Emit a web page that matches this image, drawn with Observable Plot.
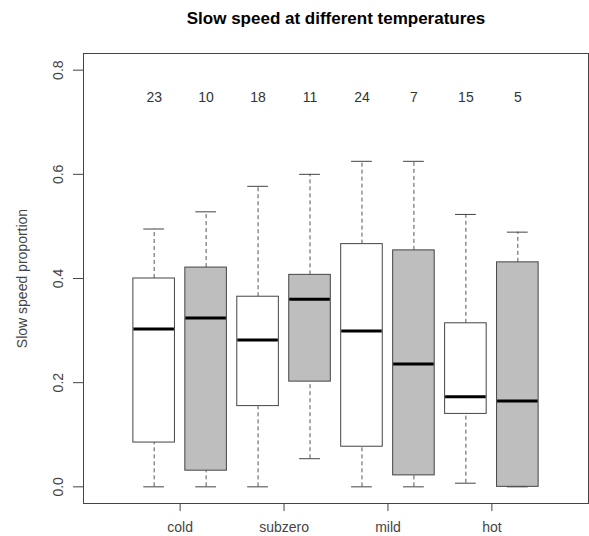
<!DOCTYPE html>
<html>
<head>
<meta charset="utf-8">
<script src="https://cdn.jsdelivr.net/npm/d3@7"></script>
<script src="https://cdn.jsdelivr.net/npm/@observablehq/plot@0.6"></script>
<style>
  html, body { margin: 0; padding: 0; background: white; }
</style>
</head>
<body>
<div id="chart"></div>
<script>
const groups = ["cold", "subzero", "mild", "hot"];
const series = ["A", "B"];
const counts = [23, 10, 18, 11, 24, 7, 15, 5];
const lowerWhisker = [0, 0, 0, 0.054, 0, 0, 0.007, 0];
const q1 = [0.085, 0.031, 0.155, 0.202, 0.077, 0.022, 0.140, 0];
const median = [0.303, 0.324, 0.282, 0.360, 0.299, 0.236, 0.173, 0.165];
const q3 = [0.400, 0.421, 0.365, 0.407, 0.466, 0.454, 0.314, 0.431];
const upperWhisker = [0.495, 0.528, 0.577, 0.600, 0.625, 0.625, 0.523, 0.489];
const yTicks = [0, 0.2, 0.4, 0.6, 0.8];

const data = counts.map((n, i) => ({
  pos: i + 1,
  group: groups[Math.floor(i / 2)],
  series: series[i % 2],
  n,
  lo: lowerWhisker[i],
  q1: q1[i],
  median: median[i],
  q3: q3[i],
  hi: upperWhisker[i]
}));
const groupTicks = groups.map((g, i) => 2 * i + 1.5);

const stroke = "#444";
const chart = Plot.plot({
  width: 589,
  height: 536,
  marginLeft: 83,
  marginRight: 1,
  marginTop: 53,
  marginBottom: 33,
  style: { fontFamily: "'Liberation Sans', Arial, sans-serif", fontSize: "14px", color: "#444", background: "white" },
  x: {
    domain: [-0.36, 9.36],
    ticks: groupTicks,
    tickFormat: d => groups[Math.round((d - 1.5) / 2)],
    tickSize: 8,
    tickPadding: 11,
    label: null
  },
  y: {
    domain: [-0.032, 0.832],
    ticks: yTicks,
    tickSize: 10,
    tickFormat: () => "",
    label: null
  },
  marks: [
    Plot.frame({ stroke: stroke }),
    Plot.ruleX(data, { x: "pos", y1: "lo", y2: "q1", stroke: "#555", strokeDasharray: "4,3" }),
    Plot.ruleX(data, { x: "pos", y1: "q3", y2: "hi", stroke: "#555", strokeDasharray: "4,3" }),
    Plot.ruleY(data, { y: "lo", x1: d => d.pos - 0.2, x2: d => d.pos + 0.2, stroke: stroke }),
    Plot.ruleY(data, { y: "hi", x1: d => d.pos - 0.2, x2: d => d.pos + 0.2, stroke: stroke }),
    Plot.rect(data.filter(d => d.series === "A"), { x1: d => d.pos - 0.4, x2: d => d.pos + 0.4, y1: "q1", y2: "q3", fill: "white", stroke: stroke }),
    Plot.rect(data.filter(d => d.series === "B"), { x1: d => d.pos - 0.4, x2: d => d.pos + 0.4, y1: "q1", y2: "q3", fill: "#bebebe", stroke: stroke }),
    Plot.ruleY(data, { y: "median", x1: d => d.pos - 0.39, x2: d => d.pos + 0.39, stroke: "black", strokeWidth: 3 }),
    Plot.text(data, { x: "pos", text: d => String(d.n), frameAnchor: "top", dy: 44, lineAnchor: "middle", fill: "#333", fontSize: 14 }),
    Plot.text(yTicks, { y: d => d, text: d => d.toFixed(1), frameAnchor: "left", textAnchor: "middle", lineAnchor: "middle", dx: -25, rotate: -90, fill: "#444", fontSize: 14 }),
    Plot.text(["Slow speed proportion"], { frameAnchor: "left", textAnchor: "middle", lineAnchor: "middle", dx: -61, rotate: -90, fill: "#444", fontSize: 14 }),
    Plot.text(["Slow speed at different temperatures"], { frameAnchor: "top", textAnchor: "middle", lineAnchor: "middle", dy: -35, fill: "black", fontWeight: "bold", fontSize: 17 })
  ]
});
document.getElementById("chart").appendChild(chart);
</script>
</body>
</html>
